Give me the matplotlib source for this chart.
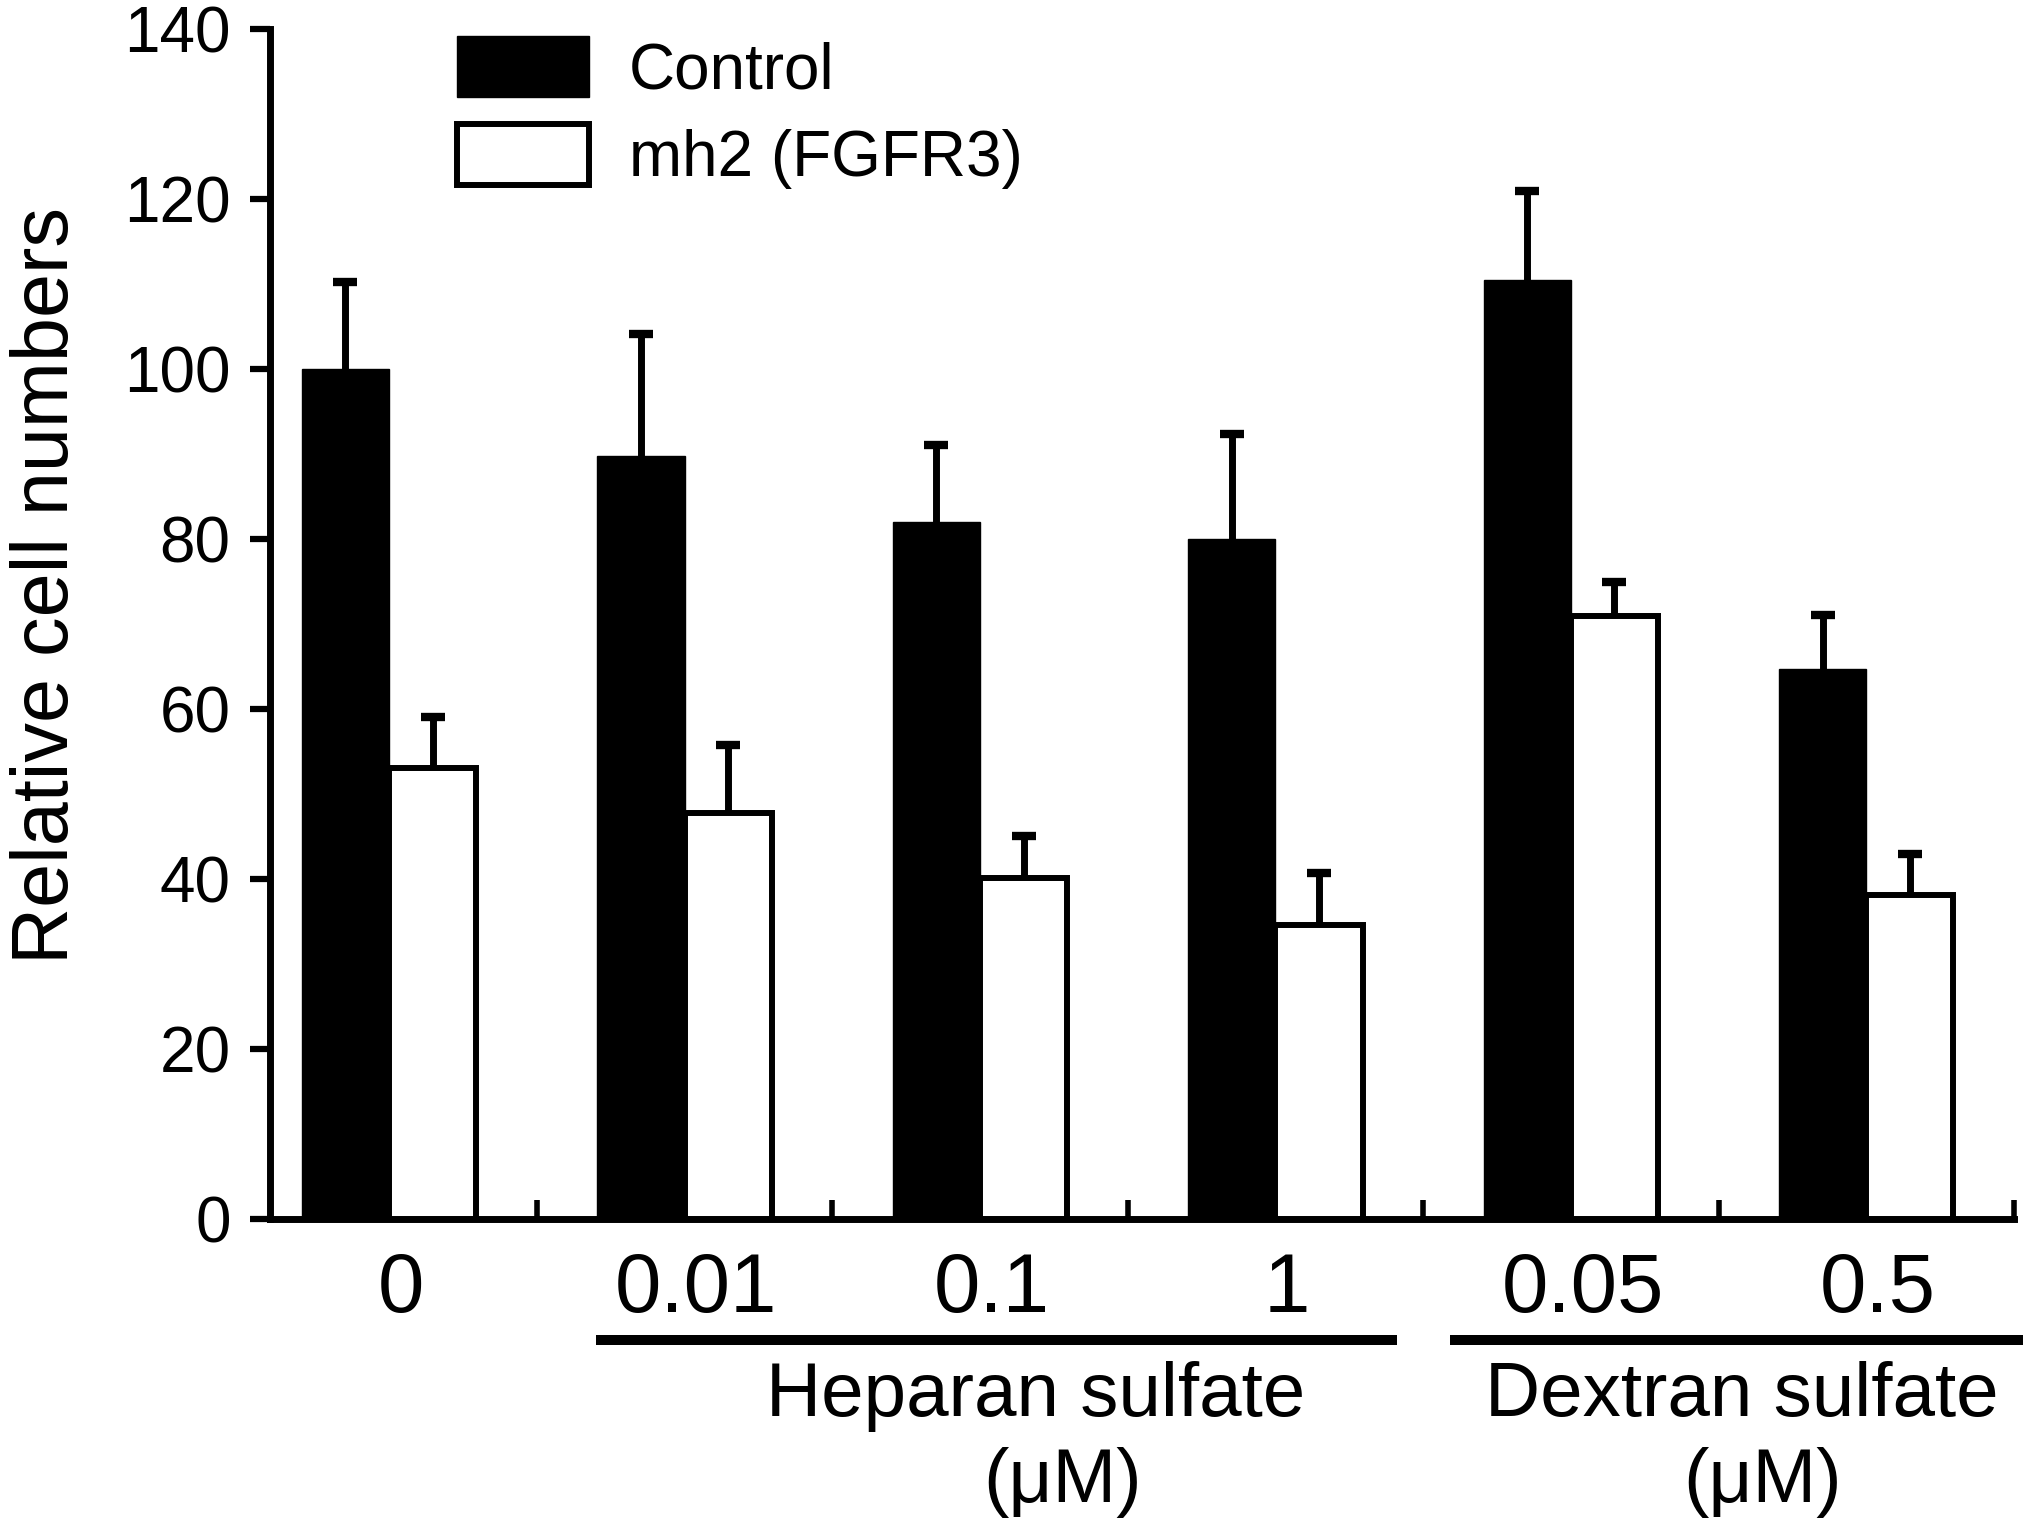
import matplotlib
matplotlib.use("Agg")
import matplotlib.pyplot as plt
import numpy as np

# ---- data ----
doses = ["0", "0.01", "0.1", "1", "0.05", "0.5"]
control = [100.0, 89.8, 82.0, 80.0, 110.5, 64.7]
control_err = [10.2, 14.3, 9.1, 12.3, 10.5, 6.4]
mh2 = [53.1, 47.8, 40.1, 34.6, 71.0, 38.1]
mh2_err = [6.0, 8.0, 5.0, 6.1, 3.9, 4.9]
series_labels = ["Control", "mh2 (FGFR3)"]
group_labels = ["Heparan sulfate", "Dextran sulfate"]
unit_label = "(\u03bcM)"
y_label = "Relative cell numbers"
y_ticks = [0, 20, 40, 60, 80, 100, 120, 140]

plt.rcParams['font.family'] = ['Liberation Sans', 'DejaVu Sans']

W, H = 2031, 1533
fig = plt.figure(figsize=(W / 100, H / 100), dpi=100)
ax = fig.add_axes([270 / W, 1 - 1219 / H, (2014 - 270) / W, (1219 - 29) / H])

x = np.arange(len(doses))
bw = 0.295
zeros = [0] * len(doses)

b1 = ax.bar(x - bw / 2, control, bw, color='black', edgecolor='black',
            linewidth=1.0, zorder=3)
b2 = ax.bar(x + bw / 2, mh2, bw, color='white', edgecolor='black',
            linewidth=4.3, zorder=3)
e1 = ax.errorbar(x - bw / 2, control, yerr=[zeros, control_err], fmt='none',
                 ecolor='black', elinewidth=5, capsize=8.6, capthick=6, zorder=2)
e2 = ax.errorbar(x + bw / 2, mh2, yerr=[zeros, mh2_err], fmt='none',
                 ecolor='black', elinewidth=5, capsize=8.6, capthick=6, zorder=4)
# only upper caps (remove caps drawn at the bar tops)
for e in (e1, e2):
    caps = e[1]
    if len(caps) >= 2:
        caps[0].set_visible(False)

ax.set_xlim(-0.403, 5.5)
ax.set_ylim(0, 140)
ax.set_yticks(y_ticks)
ax.set_yticklabels([str(v) for v in y_ticks], fontsize=46)
ax.tick_params(axis='y', direction='out', length=14.4, width=4.5, pad=14)

ax.set_xticks(x + 0.04)
ax.set_xticklabels(doses, fontsize=60)
ax.tick_params(axis='x', which='major', length=0, pad=23)
ax.set_xticks(np.arange(len(doses)) + 0.5, minor=True)
ax.tick_params(axis='x', which='minor', direction='in', length=14, width=4)

for s in ['top', 'right']:
    ax.spines[s].set_visible(False)
for s in ['left', 'bottom']:
    ax.spines[s].set_linewidth(5)
    ax.spines[s].set_capstyle('projecting')

ax.set_ylabel(y_label, fontsize=57)
ax.yaxis.set_label_coords(-0.106, 0.532)

trans = ax.get_xaxis_transform()
# group underline bars
ax.plot([0.70, 3.41], [-0.1017, -0.1017], transform=trans, color='black',
        lw=7.2, solid_capstyle='butt', clip_on=False)
ax.plot([3.59, 5.53], [-0.1017, -0.1017], transform=trans, color='black',
        lw=7.2, solid_capstyle='butt', clip_on=False)
ax.text(2.19, -0.1655, group_labels[0], transform=trans, ha='center',
        va='baseline', fontsize=55)
ax.text(2.28, -0.238, unit_label, transform=trans, ha='center',
        va='baseline', fontsize=55)
ax.text(4.58, -0.1655, group_labels[1], transform=trans, ha='center',
        va='baseline', fontsize=55)
ax.text(4.65, -0.238, unit_label, transform=trans, ha='center',
        va='baseline', fontsize=55)

ax.legend([b1, b2], series_labels, loc='upper left',
          bbox_to_anchor=(457 / W, 1 - 36 / H), bbox_transform=fig.transFigure,
          frameon=False, borderpad=0, borderaxespad=0, fontsize=46,
          handlelength=2.07, handleheight=1.1, handletextpad=0.62,
          labelspacing=0.35)

fig.savefig("out.png", dpi=100)
